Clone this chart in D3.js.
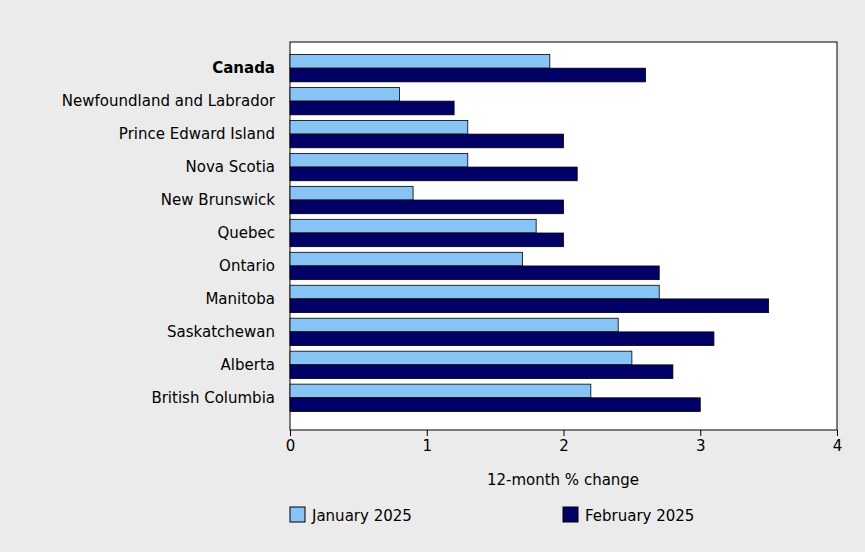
<!DOCTYPE html>
<html><head><meta charset="utf-8">
<script src="https://cdn.jsdelivr.net/npm/d3@7"></script>
<style>body{margin:0;background:#ebebeb}svg{font-family:"DejaVu Sans",Verdana,sans-serif}</style>
</head><body><svg id="c" width="865" height="552"></svg>
<script>
const categories=["Canada","Newfoundland and Labrador","Prince Edward Island","Nova Scotia","New Brunswick","Quebec","Ontario","Manitoba","Saskatchewan","Alberta","British Columbia"];
const jan2025=[1.9,0.8,1.3,1.3,0.9,1.8,1.7,2.7,2.4,2.5,2.2];
const feb2025=[2.6,1.2,2.0,2.1,2.0,2.0,2.7,3.5,3.1,2.8,3.0];
const xTicks=[0,1,2,3,4];
const seriesNames=["January 2025","February 2025"];
const colors=["#87c3f5","#000066"];
const svg=d3.select("#c");
const x=d3.scaleLinear().domain([0,4]).range([290,837]);
const y=d3.scaleBand().domain(categories).range([54.5,411.5]).paddingInner(0.17).paddingOuter(0);
svg.append("rect").attr("x",290).attr("y",42).attr("width",547).attr("height",388).attr("fill","#fff").attr("stroke","#000");
const g=svg.append("g");
[jan2025,feb2025].forEach((vals,s)=>{
  g.selectAll(null).data(categories).enter().append("rect")
   .attr("x",x(0)).attr("y",d=>y(d)+s*y.bandwidth()/2)
   .attr("width",(d,i)=>x(vals[i])-x(0)).attr("height",y.bandwidth()/2)
   .attr("fill",colors[s]).attr("stroke","#000").attr("stroke-width",0.8);
});
svg.selectAll(null).data(categories).enter().append("text")
 .attr("x",275).attr("y",d=>y(d)+y.bandwidth()/2+5).attr("text-anchor","end")
 .attr("font-size",15).attr("font-weight",d=>d==="Canada"?"bold":"normal").text(d=>d);
const ax=svg.append("g").attr("transform","translate(0,430)").call(d3.axisBottom(x).tickValues(xTicks).tickFormat(d3.format("d")).tickSize(6).tickPadding(4));
ax.select(".domain").remove();
ax.selectAll("text").attr("font-size",15).attr("font-family","DejaVu Sans").attr("fill","#000");
svg.append("text").attr("x",563).attr("y",485).attr("text-anchor","middle").attr("font-size",15).text("12-month % change");
[[290,0],[563,1]].forEach(([lx,s])=>{
  svg.append("rect").attr("x",lx).attr("y",507).attr("width",15).attr("height",15).attr("fill",colors[s]).attr("stroke","#000");
  svg.append("text").attr("x",lx+22).attr("y",521).attr("font-size",15).text(seriesNames[s]);
});
</script></body></html>
